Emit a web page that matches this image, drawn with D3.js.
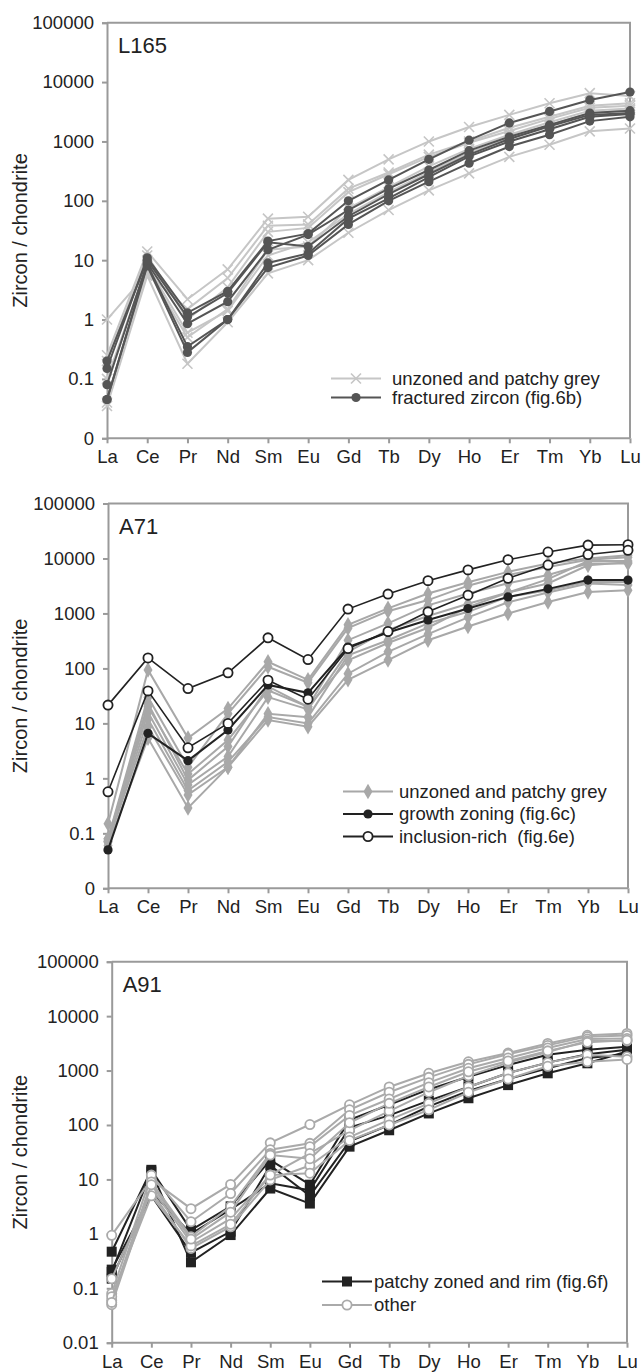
<!DOCTYPE html>
<html><head><meta charset="utf-8">
<script src="https://cdn.jsdelivr.net/npm/d3@7/dist/d3.min.js"></script>
<style>
body{margin:0;background:#fff;}
svg text{font-family:"Liberation Sans",Arial,sans-serif;fill:#222;white-space:pre;}
</style></head>
<body>
<svg id="chart" width="644" height="1372"></svg>
<script>
// ---------- DATA ----------
const elements = ["La","Ce","Pr","Nd","Sm","Eu","Gd","Tb","Dy","Ho","Er","Tm","Yb","Lu"];
const yTickValues = [0.01,0.1,1,10,100,1000,10000,100000];
const yTickLabelsA = ["0","0.1","1","10","100","1000","10000","100000"];
const yTickLabelsB = ["0.01","0.1","1","10","100","1000","10000","100000"];

// L165
const l165Unzoned = [
  [0.25,14,2.2,7,50,54,225,500,1000,1750,2800,4400,6500,5800],
  [1.0,6,1.5,5,38,40,160,300,600,1000,1700,2600,4000,4400],
  [0.2,12,1.0,3.5,30,35,140,280,550,950,1500,2400,3700,4000],
  [0.04,7,0.5,1.5,15,17,75,170,380,750,1300,2100,3300,3600],
  [0.035,5.5,0.18,0.9,6,10,29,70,150,290,550,880,1480,1650],
  [0.1,8,0.6,1.4,12,20,60,140,300,650,1150,1900,3000,3400]
];
const l165Fractured = [
  [0.15,11,1.3,3.0,21,28,100,225,500,1050,2050,3200,5000,6800],
  [0.08,9,0.85,2.0,15,27,70,160,330,700,1200,1900,3000,3300],
  [0.045,8.5,0.35,1.0,9,13,50,110,250,560,1000,1600,2600,2900],
  [0.045,8,0.28,1.0,7.5,12,40,100,210,430,820,1300,2200,2600],
  [0.2,10,1.1,2.8,20,17,55,130,280,600,1100,1800,2800,3000]
];

// A71
const a71Unzoned = [
  [0.15,94,5.4,18.6,132,62,620,1240,2300,3700,5700,8100,10000,11500],
  [0.08,30,1.6,15,107,55,540,1100,1750,3200,5000,7000,9500,10500],
  [0.07,23,0.93,3.8,47,20,326,660,1400,2300,3550,5000,8100,8100],
  [0.075,16,0.76,2.5,30,18,200,500,900,1500,2400,3500,7500,8500],
  [0.07,8.7,0.5,1.6,15,13,173,325,660,1070,2000,2650,3750,3750],
  [0.06,5.4,0.29,1.6,11.5,8.7,62,142,325,580,1000,1620,2450,2650],
  [0.08,20,1.2,5,40,20,140,290,550,1300,2400,4200,9000,9000],
  [0.07,12,0.6,2.0,13,10,80,200,420,850,1600,2400,3500,3300]
];
const a71Growth = [
  [0.05,6.6,2.1,7.6,50,36,245,450,760,1230,2000,2800,4050,4050]
];
const a71Inclusion = [
  [21.5,155,43,83,360,145,1200,2250,3950,6200,9500,13100,17500,17800],
  [0.57,39,3.6,10,61,27.5,230,470,1070,2150,4350,7600,11800,14100]
];

// A91
const a91Patchy = [
  [0.47,15,1.17,3.2,22.6,8,124,235,450,770,1260,1950,2400,2750],
  [0.2,14,0.3,0.95,6.8,3.6,40,80,163,310,540,890,1360,2240],
  [0.15,6,1.0,2.8,8.5,6.3,90,150,280,500,900,1400,2000,2400],
  [0.22,5,0.45,1.1,18,5,50,100,220,420,700,1100,1700,2000]
];
const a91Other = [
  [0.94,10,2.9,8.1,47,102,235,500,890,1450,2100,3150,4450,4800],
  [0.08,12,1.67,5.5,35,46,190,400,750,1300,2000,2900,4200,4400],
  [0.06,9,0.88,3.2,30,40,150,300,600,1100,1700,2600,3800,3900],
  [0.05,7,0.7,1.9,12,30,80,180,400,800,1400,2200,3500,3500],
  [0.15,6,0.54,1.35,9.8,18,60,124,250,500,900,1400,1950,1800],
  [0.07,5,0.6,1.5,12,13,52,100,190,400,700,1200,1450,1600],
  [0.055,8,0.8,2.5,28,24,110,250,500,950,1500,2300,3300,3600]
];

// ---------- DRAWING ----------
const svg = d3.select("#chart");
const FONT = 18.5;

function marker(g, type, color, x, y){
  if(type==="x"){
    const s=5;
    g.append("path").attr("d",`M${x-s},${y-s}L${x+s},${y+s}M${x-s},${y+s}L${x+s},${y-s}`)
      .attr("stroke",color).attr("stroke-width",1.6).attr("fill","none");
  } else if(type==="dot"){
    g.append("circle").attr("cx",x).attr("cy",y).attr("r",4.6).attr("fill",color);
  } else if(type==="diamond"){
    g.append("path").attr("d",d3.symbol().type(d3.symbolDiamond).size(70)()).attr("transform",`translate(${x},${y})`).attr("fill",color);
  } else if(type==="ring"){
    g.append("circle").attr("cx",x).attr("cy",y).attr("r",4.6).attr("fill","#fff").attr("stroke",color).attr("stroke-width",1.8);
  } else if(type==="square"){
    g.append("rect").attr("x",x-5).attr("y",y-5).attr("width",10).attr("height",10).attr("fill",color);
  }
}

function panel(cfg){
  const x = d3.scalePoint().domain(elements).range([cfg.left,cfg.right]);
  const y = d3.scaleLog().domain([0.01,100000]).range([cfg.bottom,cfg.top]);
  const g = svg.append("g");

  g.append("path").attr("d",`M${cfg.left},${cfg.top}H${cfg.right}V${cfg.bottom}`)
    .attr("fill","none").attr("stroke","#9a9a9a").attr("stroke-width",2);

  const yAxis = d3.axisLeft(y).tickValues(yTickValues)
    .tickFormat((d,i)=>cfg.yLabels[i]).tickSize(5).tickPadding(8);
  const ya = g.append("g").attr("transform",`translate(${cfg.left},0)`).call(yAxis);
  ya.selectAll("path,line").attr("stroke","#9a9a9a").attr("stroke-width",2);
  ya.selectAll("text").attr("font-size",FONT).attr("fill","#222");

  const xAxis = d3.axisBottom(x).tickSize(5).tickPadding(7);
  const xa = g.append("g").attr("transform",`translate(0,${cfg.bottom})`).call(xAxis);
  xa.selectAll("path,line").attr("stroke","#9a9a9a").attr("stroke-width",2);
  xa.selectAll("text").attr("font-size",FONT).attr("fill","#222");
  xa.select(".domain").attr("d",`M${cfg.left},0H${cfg.right}`);

  g.append("text").attr("transform",`translate(27,${(cfg.top+cfg.bottom)/2}) rotate(-90)`)
    .attr("text-anchor","middle").attr("font-size",20).text("Zircon / chondrite");
  g.append("text").attr("x",cfg.left+11).attr("y",cfg.top+30).attr("font-size",22).text(cfg.name);

  const line = d3.line().x((d,i)=>x(elements[i])).y(d=>y(d));
  cfg.groups.forEach(grp=>{
    grp.data.forEach(s=>{
      g.append("path").attr("d",line(s)).attr("fill","none")
        .attr("stroke",grp.color).attr("stroke-width",grp.width||2);
      const mg = g.append("g");
      s.forEach((v,i)=>marker(mg,grp.marker,grp.color,x(elements[i]),y(v)));
    });
  });

  cfg.legend.items.forEach((it,k)=>{
    const ly = cfg.legend.y + k*cfg.legend.dy;
    g.append("line").attr("x1",cfg.legend.x).attr("x2",cfg.legend.x+50).attr("y1",ly).attr("y2",ly)
      .attr("stroke",it.color).attr("stroke-width",2);
    marker(g,it.marker,it.color,cfg.legend.x+25,ly);
    g.append("text").attr("x",cfg.legend.x+cfg.legend.tx).attr("y",ly).attr("dy","0.35em")
      .attr("font-size",FONT).attr("xml:space","preserve").text(it.label);
  });
}

const cL1="#c6c6c6", cD1="#555555", cG2="#a8a8a8", cB="#222222", cG3="#aaaaaa";

panel({name:"L165",left:107,right:630,top:22.7,bottom:438.3,yLabels:yTickLabelsA,
  groups:[{data:l165Unzoned,color:cL1,marker:"x"},{data:l165Fractured,color:cD1,marker:"dot"}],
  legend:{x:331,y:378.5,dy:19,tx:61,items:[
    {label:"unzoned and patchy grey",color:cL1,marker:"x"},
    {label:"fractured zircon (fig.6b)",color:cD1,marker:"dot"}]}});

panel({name:"A71",left:108,right:628,top:503.5,bottom:888.3,yLabels:yTickLabelsA,
  groups:[{data:a71Unzoned,color:cG2,marker:"diamond"},{data:a71Growth,color:cB,marker:"dot"},{data:a71Inclusion,color:cB,marker:"ring",width:1.6}],
  legend:{x:343,y:791.5,dy:22.5,tx:56,items:[
    {label:"unzoned and patchy grey",color:cG2,marker:"diamond"},
    {label:"growth zoning (fig.6c)",color:cB,marker:"dot"},
    {label:"inclusion-rich  (fig.6e)",color:cB,marker:"ring"}]}});

panel({name:"A91",left:111.7,right:627,top:961.7,bottom:1342.7,yLabels:yTickLabelsB,
  groups:[{data:a91Patchy,color:cB,marker:"square"},{data:a91Other,color:cG3,marker:"ring"}],
  legend:{x:322,y:1281.5,dy:23.5,tx:52,items:[
    {label:"patchy zoned and rim (fig.6f)",color:cB,marker:"square"},
    {label:"other",color:cG3,marker:"ring"}]}});
</script>
</body></html>
